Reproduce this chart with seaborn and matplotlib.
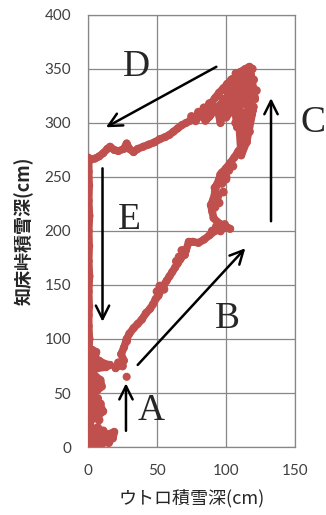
import matplotlib
matplotlib.use("Agg")
import matplotlib.pyplot as plt
import seaborn as sns
import pandas as pd

# snow depth pairs (Utoro, Shiretoko pass), cm
# early season, both small
early_x = [0, 3, 6, 10, 14, 18, 19, 15, 10, 6, 3, 1, 4, 8, 11, 9, 5, 3, 7, 10, 9, 5, 3, 5, 8, 12, 16, 13, 7, 5, 6, 3, 1, 0]
early_y = [0, 2, 0, 3, 5, 8, 14, 12, 10, 13, 17, 22, 27, 30, 33, 38, 42, 48, 53, 56, 62, 66, 70, 76, 80, 77, 76, 74, 73, 82, 88, 90, 84, 70]
early_fill_x = [2, 5, 8, 12, 4, 7, 2, 5, 8, 3, 6, 2, 4, 7, 3, 2, 11, 15, 6, 9, 3]
early_fill_y = [5, 8, 6, 8, 12, 18, 30, 35, 25, 45, 58, 60, 64, 45, 55, 10, 15, 4, 3, 40, 80]
# A: single jump at the pass
a_x = [28]
a_y = [65]
# B: both rising
b_x = [20, 23, 26, 24, 26, 28, 30, 33, 36, 39, 42, 45, 47, 49, 51, 53, 55, 57, 59, 61, 63, 65, 67, 69, 71,
       73, 76, 80, 84, 88, 92, 96, 100, 103, 98, 94, 91, 90, 89, 91, 92, 93, 95, 97, 100, 103, 106, 109, 112, 115]
b_y = [73, 76, 80, 86, 92, 100, 105, 110, 114, 118, 124, 128, 132, 137, 140, 146, 150, 154, 158, 162, 166, 170, 174, 178, 182,
       190, 190, 189, 192, 196, 200, 202, 203, 202, 205, 208, 212, 218, 224, 230, 236, 242, 248, 254, 258, 263, 268, 274, 278, 282]
b_fill_x = [22, 25, 28, 50, 52, 55, 64, 66, 68, 70, 90, 93, 96, 99, 92, 95, 98, 94, 97, 100, 102, 92, 96, 100, 105]
b_fill_y = [78, 75, 98, 144, 149, 146, 172, 176, 182, 178, 200, 204, 200, 206, 222, 226, 236, 232, 244, 250, 256, 240, 252, 248, 260]
# C: pass keeps rising, Utoro flat
c_x = [113, 115, 116, 117, 115, 112, 110, 108, 112, 116, 119, 121, 118, 114, 110, 106, 103, 100, 102, 98, 96, 94, 90, 88, 85,
       105, 108, 113, 117, 120, 115, 111, 107]
c_y = [290, 298, 306, 314, 322, 330, 338, 325, 318, 328, 335, 322, 345, 340, 330, 318, 310, 305, 318, 320, 300, 312, 310, 306, 302,
       330, 296, 305, 300, 315, 283, 270, 346]
top_fill_x = [100, 104, 108, 112, 116, 98, 102, 106, 110, 114, 118, 95, 100, 105, 110, 115, 92, 97, 103, 108, 113, 104,
              109, 114, 119, 111, 116, 107, 112, 117, 120, 122, 90, 86, 82, 78, 75, 80, 84, 88,
              101, 105, 109, 113, 117, 99, 103, 107, 111, 115, 106, 110, 114, 118, 112, 116, 120, 108, 112]
top_fill_y = [330, 332, 335, 338, 340, 322, 325, 328, 330, 332, 330, 315, 318, 320, 322, 325, 312, 310, 312, 315, 318, 340,
              344, 348, 350, 310, 312, 300, 295, 292, 325, 330, 316, 310, 306, 302, 306, 310, 314, 318,
              336, 338, 340, 344, 346, 316, 320, 324, 326, 328, 312, 316, 320, 322, 334, 336, 340, 306, 302]
# D: Utoro melts, pass stays high
d_x = [117, 114, 110, 107, 104, 101, 98, 95, 92, 89, 86, 83, 80, 77, 74, 71, 68, 65, 62, 59, 56, 52, 48, 44, 40,
       36, 33, 30, 28, 26, 22, 19, 16, 14, 11, 8, 5, 2, 0]
d_y = [352, 350, 347, 343, 340, 336, 332, 328, 323, 318, 314, 311, 308, 305, 302, 300, 298, 295, 292, 289, 287, 285, 282, 280, 278,
       276, 273, 276, 281, 276, 274, 275, 278, 276, 272, 269, 267, 266, 268]
# E: pass melts, no snow at Utoro
e_x = [0.5, 0.5, 0.8, 0.5, 1.0, 0.5, 0.8, 0.5, 1.0, 0.5, 0.8, 0.5, 0.5, 1.0, 0.5, 0.8, 0.5, 1.0, 0.5, 0.5]
e_y = [266, 255, 242, 228, 214, 200, 186, 172, 158, 144, 130, 122, 112, 100, 86, 72, 58, 40, 20, 0]

x_ticks = [0, 50, 100, 150]
y_ticks = [0, 50, 100, 150, 200, 250, 300, 350, 400]

# phase labels: (letter, x, y) and arrows: (start, tip)
phase_labels = [("A", 46, 34), ("B", 101, 119), ("C", 163, 300), ("D", 35, 352), ("E", 30, 210)]
arrows = [((27.5, 15), (27.5, 59)), ((36, 76), (114, 184)), ((132.6, 209), (132.6, 323)),
          ((93, 352), (13, 296)), ((10.5, 258), (10.5, 116))]

RED = "#C0504D"
GRID = "#878787"

sns.set_style("white")
fig = plt.figure(figsize=(3.26, 5.15), dpi=100)
ax = fig.add_axes([0.270, 0.132, 0.635, 0.839])

segments = [(early_x, early_y), (a_x, a_y), (b_x, b_y), (c_x, c_y), (d_x, d_y), (e_x, e_y)]
for xs, ys in segments:
    seg = pd.DataFrame({"x": xs, "y": ys})
    if len(seg) > 1:
        sns.lineplot(data=seg, x="x", y="y", sort=False, estimator=None, color=RED,
                     lw=5.5, solid_capstyle="round", solid_joinstyle="round", ax=ax, zorder=3)
    sns.scatterplot(data=seg, x="x", y="y", color=RED, s=34, edgecolor="none", ax=ax, zorder=4)

fills = pd.DataFrame({"x": early_fill_x + b_fill_x + top_fill_x,
                      "y": early_fill_y + b_fill_y + top_fill_y})
sns.scatterplot(data=fills, x="x", y="y", color=RED, s=40, edgecolor="none", ax=ax, zorder=4)

ax.set_xlim(0, 150)
ax.set_ylim(0, 400)
ax.set_xticks(x_ticks)
ax.set_yticks(y_ticks)
ax.grid(True, color=GRID, lw=0.9)
ax.set_axisbelow(True)
for sp in ax.spines.values():
    sp.set_color(GRID)
    sp.set_linewidth(0.9)
ax.tick_params(length=0, labelsize=11, labelcolor="#404040")
ax.tick_params(axis="y", pad=12)
ax.tick_params(axis="x", pad=12)
for lab in ax.get_xticklabels() + ax.get_yticklabels():
    lab.set_family("Lato")

ax.set_xlabel("ウトロ積雪深(cm)", family=["Noto Sans CJK JP", "DejaVu Sans"], fontsize=13, labelpad=8)
ax.set_ylabel("知床峠積雪深(cm)", family=["Noto Sans CJK JP", "DejaVu Sans"], fontsize=13,
              fontweight="bold", labelpad=8)

for (x0, y0), (x1, y1) in arrows:
    ax.annotate("", xy=(x1, y1), xytext=(x0, y0), annotation_clip=False,
                arrowprops=dict(arrowstyle="->", color="black", lw=1.8, mutation_scale=24,
                                shrinkA=0, shrinkB=0), zorder=5)

for letter, lx, ly in phase_labels:
    ax.text(lx, ly, letter, family="Liberation Serif", fontsize=27, ha="center", va="center",
            clip_on=False, zorder=5)

fig.savefig("out.png", dpi=100)
